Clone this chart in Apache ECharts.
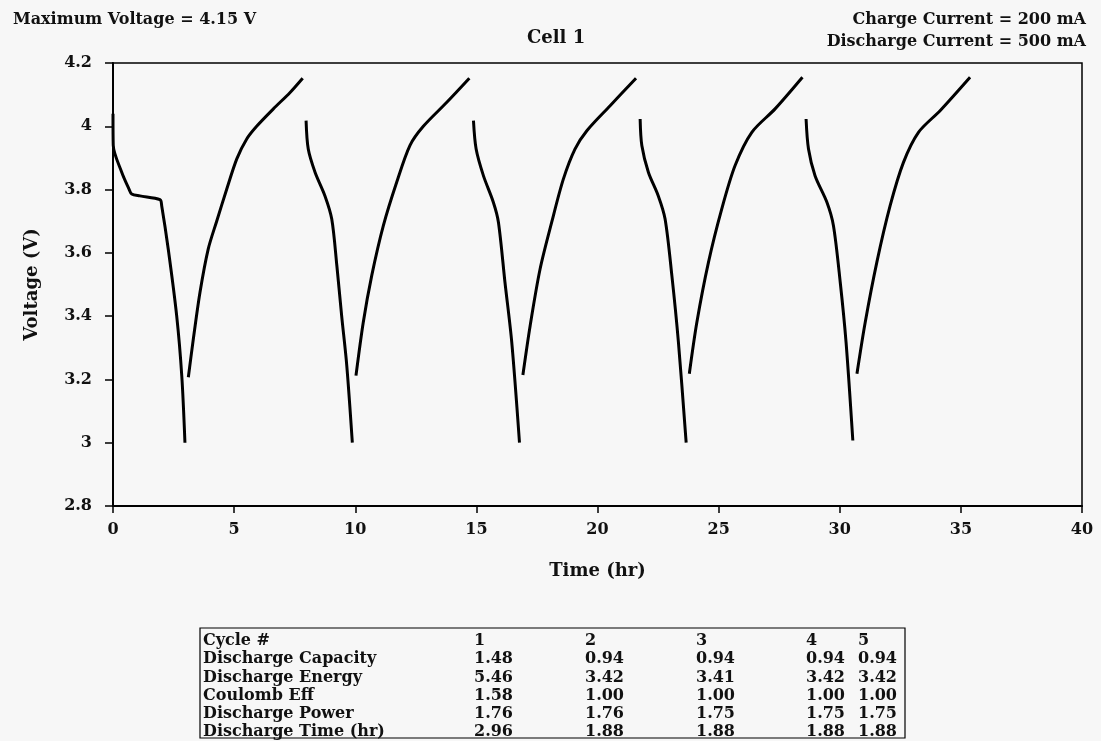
<!DOCTYPE html>
<html>
<head>
<meta charset="utf-8">
<script src="https://cdn.jsdelivr.net/npm/echarts@6/dist/echarts.min.js"></script>
<style>
  html, body { margin: 0; padding: 0; background: #f7f7f7; }
  #main { width: 1101px; height: 741px; }
</style>
</head>
<body>
<div id="main"></div>
<script>
// time (hr), voltage (V), one array per segment
var dis1 = [[0, 4.04], [0.01, 3.94], [0.36, 3.855], [0.67, 3.80], [0.77, 3.786], [1.11, 3.78], [1.94, 3.768], [2.01, 3.749], [2.28, 3.612], [2.63, 3.40], [2.84, 3.21], [2.97, 3.0]];
var chg1 = [[3.11, 3.207], [3.32, 3.33], [3.59, 3.475], [3.93, 3.612], [4.28, 3.70], [4.69, 3.80], [5.11, 3.897], [5.52, 3.96], [5.93, 4.0], [6.62, 4.055], [7.31, 4.107], [7.83, 4.152]];
var dis2 = [[7.97, 4.018], [8.06, 3.928], [8.34, 3.855], [8.75, 3.78], [9.03, 3.707], [9.24, 3.56], [9.44, 3.40], [9.65, 3.244], [9.88, 3.0]];
var chg2 = [[10.03, 3.212], [10.33, 3.38], [10.68, 3.528], [11.16, 3.686], [11.71, 3.823], [12.26, 3.94], [12.81, 4.0], [13.78, 4.076], [14.71, 4.152]];
var dis3 = [[14.88, 4.018], [14.99, 3.928], [15.29, 3.844], [15.70, 3.76], [15.91, 3.697], [16.18, 3.507], [16.46, 3.318], [16.78, 3.0]];
var chg3 = [[16.92, 3.214], [17.22, 3.37], [17.63, 3.549], [18.11, 3.697], [18.59, 3.833], [19.07, 3.928], [19.56, 3.986], [20.52, 4.065], [21.59, 4.152]];
var dis4 = [[21.76, 4.023], [21.83, 3.939], [22.10, 3.855], [22.51, 3.78], [22.79, 3.707], [23.07, 3.528], [23.34, 3.318], [23.66, 3.0]];
var chg4 = [[23.79, 3.218], [24.10, 3.38], [24.58, 3.57], [25.13, 3.739], [25.68, 3.876], [26.37, 3.981], [27.33, 4.055], [28.46, 4.155]];
var dis5 = [[28.61, 4.023], [28.71, 3.928], [28.98, 3.844], [29.47, 3.76], [29.74, 3.686], [30.02, 3.507], [30.26, 3.318], [30.54, 3.007]];
var chg5 = [[30.71, 3.218], [31.05, 3.38], [31.53, 3.57], [32.08, 3.749], [32.63, 3.886], [33.25, 3.981], [34.15, 4.05], [35.38, 4.155]];

// table under the chart
var tableCols = ['1', '2', '3', '4', '5'];
var tableRows = ['Discharge Capacity', 'Discharge Energy', 'Coulomb Eff', 'Discharge Power', 'Discharge Time (hr)'];
var capacity = ['1.48', '0.94', '0.94', '0.94', '0.94'];
var energy = ['5.46', '3.42', '3.41', '3.42', '3.42'];
var coulombEff = ['1.58', '1.00', '1.00', '1.00', '1.00'];
var power = ['1.76', '1.76', '1.75', '1.75', '1.75'];
var dischargeTime = ['2.96', '1.88', '1.88', '1.88', '1.88'];

var FONT = '"DejaVu Serif", "Liberation Serif", serif';
var segments = [dis1, chg1, dis2, chg2, dis3, chg3, dis4, chg4, dis5, chg5];

var myChart = echarts.init(document.getElementById('main'));

// table built with graphic elements
var tableValues = [capacity, energy, coulombEff, power, dischargeTime];
var colX = [474, 585, 696, 806, 858];
var rowY0 = 641, rowH = 18.2;
var graphics = [{
    type: 'rect',
    shape: { x: 200, y: 628, width: 705, height: 110 },
    style: { fill: 'none', stroke: '#000', lineWidth: 1.2 }
}];
function cellText(x, y, txt) {
    return {
        type: 'text', x: x, y: y,
        style: { text: txt, font: 'bold 16px ' + FONT, fill: '#111', textVerticalAlign: 'middle' }
    };
}
graphics.push(cellText(203, rowY0, 'Cycle #'));
for (var c = 0; c < tableCols.length; c++) {
    graphics.push(cellText(colX[c], rowY0, tableCols[c]));
}
for (var r = 0; r < tableRows.length; r++) {
    var y = rowY0 + (r + 1) * rowH;
    graphics.push(cellText(203, y, tableRows[r]));
    for (var k = 0; k < tableValues[r].length; k++) {
        graphics.push(cellText(colX[k], y, tableValues[r][k]));
    }
}

var option = {
    backgroundColor: '#f7f7f7',
    animation: false,
    title: [
        { text: 'Maximum Voltage = 4.15 V', left: 8, top: 7,
          textStyle: { fontFamily: FONT, fontWeight: 'bold', fontSize: 16, color: '#111' } },
        { text: 'Cell 1', left: 522, top: 24,
          textStyle: { fontFamily: FONT, fontWeight: 'bold', fontSize: 18, color: '#111' } },
        { text: 'Charge Current = 200 mA', right: 10, top: 7,
          textStyle: { fontFamily: FONT, fontWeight: 'bold', fontSize: 16, color: '#111' } },
        { text: 'Discharge Current = 500 mA', right: 10, top: 29,
          textStyle: { fontFamily: FONT, fontWeight: 'bold', fontSize: 16, color: '#111' } }
    ],
    grid: {
        left: 113, right: 19, top: 63, bottom: 235,
        show: true, borderColor: '#000', borderWidth: 1.5, backgroundColor: 'transparent'
    },
    xAxis: {
        type: 'value', min: 0, max: 40, interval: 5,
        name: 'Time (hr)', nameLocation: 'middle', nameGap: 56,
        nameTextStyle: { fontFamily: FONT, fontWeight: 'bold', fontSize: 18, color: '#111' },
        axisLine: { lineStyle: { color: '#000', width: 2 } },
        axisTick: { show: true, length: 7, lineStyle: { color: '#000', width: 1.5 } },
        axisLabel: { fontFamily: FONT, fontWeight: 'bold', fontSize: 16, color: '#111', margin: 16 },
        splitLine: { show: false }
    },
    yAxis: {
        type: 'value', min: 2.8, max: 4.2, interval: 0.2,
        name: 'Voltage (V)', nameLocation: 'middle', nameGap: 72, nameRotate: 90,
        nameTextStyle: { fontFamily: FONT, fontWeight: 'bold', fontSize: 18, color: '#111' },
        axisLine: { lineStyle: { color: '#000', width: 2 } },
        axisTick: { show: true, length: 8, lineStyle: { color: '#000', width: 1.5 } },
        axisLabel: { fontFamily: FONT, fontWeight: 'bold', fontSize: 16, color: '#111', margin: 21 },
        splitLine: { show: false }
    },
    series: segments.map(function (seg) {
        return {
            type: 'line',
            data: seg,
            smooth: 0.3,
            showSymbol: false,
            lineStyle: { color: '#000', width: 3 }
        };
    }),
    graphic: graphics
};
myChart.setOption(option);
</script>
</body>
</html>
